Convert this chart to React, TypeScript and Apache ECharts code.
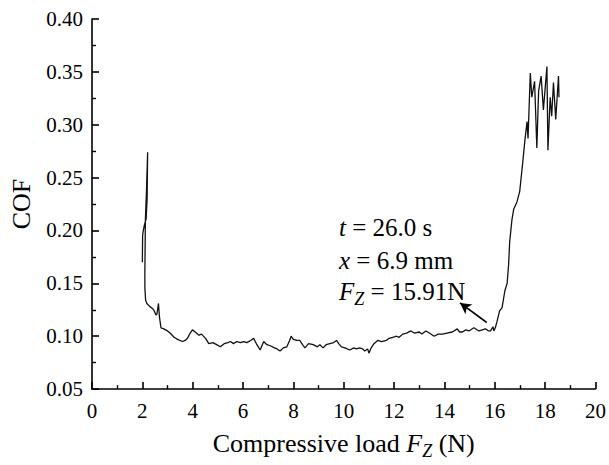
import React, { useEffect, useRef } from "react";
import * as echarts from "echarts";

// Compressive load Fz (N)
const loadN: number[] = [
  2.0, 2.01, 2.03, 2.08, 2.15, 2.19, 2.21, 2.16, 2.12, 2.10, 2.10, 2.13, 2.18, 2.30, 2.41, 2.47, 2.54, 2.58, 2.64, 2.68,
  2.74, 2.85, 3.0, 3.1, 3.26, 3.4, 3.59, 3.7, 3.79, 3.9, 3.99, 4.1, 4.25, 4.35, 4.51, 4.64, 4.8, 4.95, 5.1, 5.25,
  5.4, 5.5, 5.62, 5.75, 5.9, 6.02, 6.15, 6.3, 6.42, 6.55, 6.68, 6.82, 6.95, 7.08, 7.25, 7.35, 7.47, 7.6, 7.74, 7.85,
  7.91, 8.0, 8.13, 8.26, 8.36, 8.46, 8.6, 8.79, 8.95, 9.05, 9.18, 9.3, 9.45, 9.6, 9.71, 9.8, 9.91, 10.05, 10.24, 10.4,
  10.5, 10.63, 10.75, 10.83, 10.95, 11.0, 11.09, 11.2, 11.35, 11.5, 11.69, 11.8, 11.95, 12.1, 12.2, 12.34, 12.5, 12.67, 12.8, 13.0,
  13.1, 13.26, 13.4, 13.59, 13.75, 13.92, 14.1, 14.31, 14.51, 14.6, 14.71, 14.85, 14.97, 15.17, 15.37, 15.5, 15.63, 15.75, 15.83, 15.93,
  15.96, 16.02, 16.09, 16.19, 16.29, 16.4, 16.49, 16.55, 16.59, 16.68, 16.75, 16.88, 16.99, 17.1, 17.19, 17.28, 17.32, 17.41, 17.47, 17.58,
  17.67, 17.74, 17.84, 17.93, 18.07, 18.11, 18.2, 18.26, 18.33, 18.42, 18.53, 18.55,
];

// Coefficient of friction
const cof: number[] = [
  0.170, 0.195, 0.199, 0.205, 0.211, 0.230, 0.274, 0.235, 0.210, 0.160, 0.146, 0.134, 0.131, 0.128, 0.126, 0.124, 0.120, 0.121, 0.131, 0.118,
  0.108, 0.107, 0.105, 0.103, 0.099, 0.097, 0.095, 0.096, 0.098, 0.103, 0.106, 0.104, 0.101, 0.102, 0.098, 0.093, 0.094, 0.092, 0.090, 0.093,
  0.094, 0.095, 0.093, 0.095, 0.094, 0.095, 0.094, 0.096, 0.098, 0.092, 0.087, 0.095, 0.092, 0.091, 0.089, 0.088, 0.086, 0.089, 0.090, 0.096,
  0.100, 0.097, 0.096, 0.096, 0.092, 0.089, 0.093, 0.092, 0.090, 0.092, 0.089, 0.092, 0.093, 0.094, 0.096, 0.093, 0.090, 0.089, 0.087, 0.089,
  0.088, 0.089, 0.088, 0.086, 0.088, 0.084, 0.089, 0.093, 0.096, 0.095, 0.096, 0.098, 0.099, 0.100, 0.099, 0.102, 0.103, 0.105, 0.103, 0.104,
  0.102, 0.105, 0.103, 0.100, 0.102, 0.102, 0.103, 0.104, 0.107, 0.104, 0.104, 0.106, 0.105, 0.108, 0.105, 0.106, 0.107, 0.105, 0.105, 0.109,
  0.105, 0.108, 0.114, 0.124, 0.127, 0.143, 0.150, 0.168, 0.189, 0.210, 0.220, 0.227, 0.237, 0.262, 0.284, 0.303, 0.287, 0.349, 0.326, 0.341,
  0.278, 0.332, 0.346, 0.314, 0.355, 0.276, 0.326, 0.308, 0.340, 0.305, 0.346, 0.326,
];

// Arrow annotation endpoints (tail near curve, head pointing at text)
const arrowTail: [number, number] = [15.68, 0.113];
const arrowHead: [number, number] = [14.62, 0.1315];

const annotationLines: string[] = ["{i|t} = 26.0 s", "{i|x} = 6.9 mm", "{i|F}{s|Z} = 15.91N"];

const SERIF = "'Liberation Serif', 'Times New Roman', serif";

export default function App() {
  const ref = useRef<HTMLDivElement>(null);

  useEffect(() => {
    document.body.style.margin = "0";
    if (!ref.current) return;
    const chart = echarts.init(ref.current, undefined, { renderer: "svg" });

    const data = loadN.map((x, i) => [x, cof[i]]);

    const axisCommon = {
      axisLine: { show: true, onZero: false, lineStyle: { color: "#000", width: 1.6 } },
      axisTick: { show: true, inside: true, length: 7, lineStyle: { color: "#000", width: 1.6 } },
      minorTick: { show: true, splitNumber: 2, length: 4, lineStyle: { color: "#000", width: 1.4 } },
      splitLine: { show: false },
      minorSplitLine: { show: false },
    };

    const textY = [227, 260, 291];

    chart.setOption({
      animation: false,
      backgroundColor: "#fff",
      grid: { left: 91, right: 11, top: 19, bottom: 63, containLabel: false },
      xAxis: {
        type: "value",
        min: 0,
        max: 20,
        interval: 2,
        ...axisCommon,
        axisLabel: { color: "#000", fontFamily: SERIF, fontSize: 21, margin: 11 },
        name: "Compressive load {i|F}{s|Z} (N)",
        nameLocation: "middle",
        nameGap: 28,
        nameTextStyle: {
          color: "#000",
          fontFamily: SERIF,
          fontSize: 26,
          lineHeight: 34,
          rich: {
            i: { fontFamily: SERIF, fontSize: 26, fontStyle: "italic", color: "#000", lineHeight: 34 },
            s: { fontFamily: SERIF, fontSize: 18, fontStyle: "italic", color: "#000", lineHeight: 10, verticalAlign: "bottom" },
          },
        },
      },
      yAxis: {
        type: "value",
        min: 0.05,
        max: 0.4,
        interval: 0.05,
        ...axisCommon,
        axisLabel: {
          color: "#000",
          fontFamily: SERIF,
          fontSize: 21,
          margin: 9,
          formatter: (v: number) => v.toFixed(2),
        },
        name: "COF",
        nameLocation: "middle",
        nameGap: 58,
        nameTextStyle: { color: "#000", fontFamily: SERIF, fontSize: 26 },
      },
      series: [
        {
          type: "line",
          data,
          showSymbol: false,
          symbol: "none",
          lineStyle: { color: "#111", width: 1.3 },
          silent: true,
          markLine: {
            silent: true,
            symbol: ["none", "arrow"],
            symbolSize: [9, 11],
            label: { show: false },
            lineStyle: { color: "#000", width: 1.6, type: "solid" },
            data: [[{ coord: arrowTail }, { coord: arrowHead }]],
          },
        },
      ],
      graphic: annotationLines.map((t, i) => ({
        type: "text",
        x: 339,
        y: textY[i],
        silent: true,
        style: {
          text: t,
          fill: "#000",
          fontFamily: SERIF,
          fontSize: 25,
          lineHeight: 34,
          verticalAlign: "middle",
          align: "left",
          rich: {
            i: { fontFamily: SERIF, fontSize: 25, fontStyle: "italic", fill: "#000", lineHeight: 34 },
            s: { fontFamily: SERIF, fontSize: 18, fontStyle: "italic", fill: "#000", lineHeight: 10, verticalAlign: "bottom" },
          },
        },
      })),
    });

    return () => chart.dispose();
  }, []);

  return <div ref={ref} style={{ width: 609, height: 465 }} />;
}
